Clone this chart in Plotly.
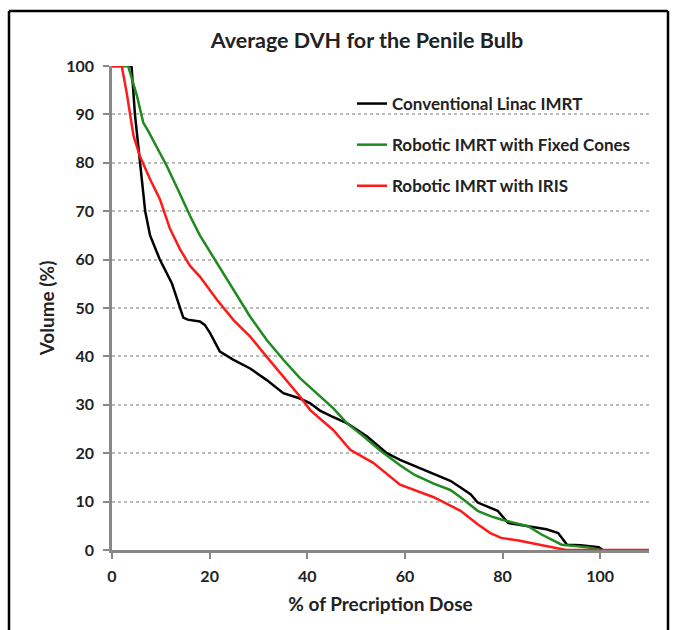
import plotly.graph_objects as go

# Conventional Linac IMRT
black_dose = [0, 4.0, 4.7, 5.7, 6.8, 7.8, 9.8, 12.3, 14.0, 14.6, 15.5, 18.0, 19.0, 20.1, 22.1, 24.9,
              28.3, 31.7, 35.1, 38.5, 40.6, 42.6, 45.0, 48.1, 52.2, 56.3, 59.0, 62.4, 65.9, 69.3,
              71.4, 73.5, 74.9, 77.0, 79.0, 81.1, 83.0, 86.6, 89.0, 91.4, 93.2, 96.0, 99.7, 100.5]
black_vol = [100, 100, 90, 80, 70, 65, 60, 55, 50, 48, 47.6, 47.2, 46.5, 44.8, 41.0, 39.3,
             37.5, 35.1, 32.4, 31.3, 30.3, 28.8, 27.6, 26.2, 23.5, 20.0, 18.6, 17.2, 15.7, 14.3,
             12.9, 11.5, 9.8, 9.0, 8.1, 5.6, 5.3, 4.6, 4.3, 3.5, 1.1, 1.0, 0.6, 0]

# Robotic IMRT with Fixed Cones
green_dose = [0, 3.3, 5.1, 6.4, 7.4, 9.0, 11.2, 13.5, 16.0, 18.0, 21.1, 24.9, 28.3, 31.7, 35.1,
              38.5, 41.9, 45.3, 48.1, 51.5, 55.0, 59.0, 62.0, 65.9, 69.3, 71.4, 74.9, 77.5, 79.7,
              82.5, 85.2, 88.0, 92.1, 95.0, 97.7, 100.0]
green_vol = [100, 100, 93.9, 88.3, 86.6, 83.5, 79.4, 74.5, 69.0, 65.0, 60.0, 53.7, 48.2, 43.4, 39.3,
             35.5, 32.4, 29.3, 26.2, 23.5, 20.5, 17.5, 15.5, 13.7, 12.4, 10.9, 8.1, 7.0, 6.3,
             5.6, 4.9, 3.2, 1.1, 0.8, 0.5, 0]

# Robotic IMRT with IRIS
red_dose = [0, 2.0, 3.0, 3.7, 4.4, 5.7, 7.8, 9.8, 11.9, 14.0, 16.0, 18.0, 21.5, 24.9, 28.3, 31.7,
            35.1, 38.5, 40.6, 45.3, 48.8, 53.5, 59.0, 62.5, 65.9, 71.4, 74.9, 77.5, 79.7, 83.0,
            86.6, 91.4, 93.0, 110]
red_vol = [100, 100, 94.5, 90.4, 85.6, 81.4, 76.6, 72.5, 66.3, 62.0, 58.7, 56.5, 51.7, 47.5, 44.1, 39.9,
           35.8, 31.7, 28.9, 24.8, 20.7, 18.0, 13.5, 12.2, 10.9, 8.1, 5.3, 3.5, 2.5, 2.0,
           1.3, 0.3, 0, 0]

series_names = ["Conventional Linac IMRT", "Robotic IMRT with Fixed Cones", "Robotic IMRT with IRIS"]
x_ticks = [0, 20, 40, 60, 80, 100]
y_ticks = [0, 10, 20, 30, 40, 50, 60, 70, 80, 90, 100]

FONT = "Lato, 'Open Sans', sans-serif"
TXT = "#222"

fig = go.Figure()
for i, (xs, ys, col) in enumerate([(black_dose, black_vol, "#000000"),
                                   (green_dose, green_vol, "#1f8a1f"),
                                   (red_dose, red_vol, "#ff1a1a")]):
    fig.add_trace(go.Scatter(x=xs, y=ys, mode="lines", name=f"<b>{series_names[i]}</b>",
                             line=dict(color=col, width=2.5),
                             legendgroup=str(i)))

L, R, T, B = 112, 26, 66, 80
W, H = 675, 630
pw, ph = W - L - R, H - T - B

def px_x(p):
    return (p - L) / pw

def px_y(p):
    return (H - B - p) / ph

fig.update_layout(
    width=W, height=H,
    margin=dict(l=L, r=R, t=T, b=B),
    paper_bgcolor="white", plot_bgcolor="white",
    font=dict(family=FONT, color=TXT, size=15),
    title=dict(text="<b>Average DVH for the Penile Bulb</b>", x=367 / W, xanchor="center",
               y=1 - 40 / H, yanchor="middle", font=dict(size=21.5, family=FONT, color=TXT)),
    showlegend=True,
    legend=dict(x=px_x(352), y=px_y(86), xanchor="left", yanchor="top",
                bgcolor="rgba(0,0,0,0)", font=dict(size=17, family=FONT, color=TXT),
                tracegroupgap=16, itemwidth=30, traceorder="grouped"),
    xaxis=dict(range=[0, 110], tickvals=x_ticks, ticktext=[f"<b>{v}</b>" for v in x_ticks],
               showgrid=False, zeroline=False, showline=True, linecolor="#888", linewidth=2.5,
               ticks="outside", ticklen=6, tickwidth=2, tickcolor="#888",
               ticklabelstandoff=4,
               tickfont=dict(size=16, family=FONT, color=TXT),
               title=dict(text="<b>% of Precription Dose</b>", font=dict(size=19, family=FONT, color=TXT),
                          standoff=14)),
    yaxis=dict(range=[0, 100], tickvals=y_ticks, ticktext=[f"<b>{v}</b>" for v in y_ticks],
               showgrid=True, gridcolor="#bbbbbb", griddash="dot", gridwidth=1.5,
               zeroline=False, showline=True, linecolor="#888", linewidth=2.5,
               ticks="outside", ticklen=6, tickwidth=2, tickcolor="#888",
               ticklabelstandoff=6,
               tickfont=dict(size=16, family=FONT, color=TXT),
               title=dict(text="<b>Volume (%)</b>", font=dict(size=19, family=FONT, color=TXT),
                          standoff=7)),
)

# outer frame (left, top, right edges)
frame = dict(type="line", xref="paper", yref="paper", line=dict(color="black", width=2.5))
fig.add_shape(**frame, x0=px_x(9), x1=px_x(9), y0=px_y(11), y1=px_y(640))
fig.add_shape(**frame, x0=px_x(9), x1=px_x(668), y0=px_y(11), y1=px_y(11))
fig.add_shape(**frame, x0=px_x(668), x1=px_x(668), y0=px_y(11), y1=px_y(640))

fig.write_html("out.html")
